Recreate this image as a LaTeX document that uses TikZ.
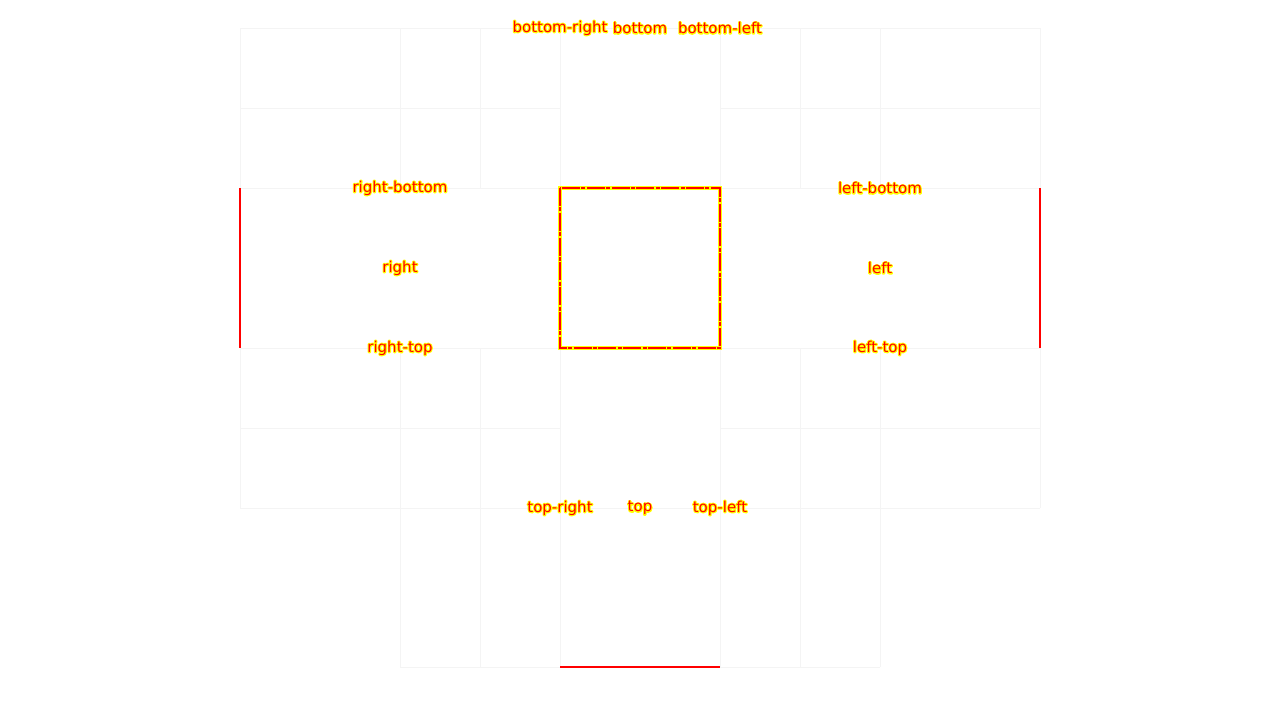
\documentclass[tikz,border=0pt]{standalone}
\usepackage{fontspec}
\setmainfont{DejaVu Sans}
\definecolor{faint}{RGB}{244,244,244}
\definecolor{hl}{RGB}{255,255,0}
\newcommand{\halotext}[1]{\rlap{\special{pdf:code q 1 Tr 1.1 w 1 1 0 RG 1 j}#1\special{pdf:code Q}}#1}
\begin{document}
\begin{tikzpicture}[x=0.5pt,y=-0.5pt,
  faintline/.style={draw=faint,line width=0.5pt},
  redside/.style={draw=red,line width=0.6pt},
  lbl/.style={inner sep=0pt,text=red,font=\fontsize{7.5}{8}\selectfont}]
\useasboundingbox (0,0) rectangle (1280,720);
% faint grid
\foreach \x in {240,400,480,560,720,800,880,1040} {
  \draw[faintline] (\x,28) -- (\x,188);
  \draw[faintline] (\x,348) -- (\x,508);
}
\foreach \x in {400,480,560,720,800,880}
  \draw[faintline] (\x,508) -- (\x,667);
\foreach \y in {108,188,348,428} {
  \draw[faintline] (240,\y) -- (560,\y);
  \draw[faintline] (720,\y) -- (1040,\y);
}
\draw[faintline] (240,28) -- (1040,28);
\draw[faintline] (240,508) -- (1040,508);
\draw[faintline] (400,667) -- (880,667);
% red marks
\coordinate (la) at (240,188); \coordinate (lb) at (240,348);
\coordinate (ra) at (1040,188); \coordinate (rb) at (1040,348);
\coordinate (ba) at (560,667); \coordinate (bb) at (720,667);
\draw[redside] (la) -- (lb);
\draw[redside] (ra) -- (rb);
\draw[draw=red,line width=0.7pt] (ba) -- (bb);
% central box
\draw[draw=hl,line width=1.6pt] (560,188) rectangle (720,348);
\draw[draw=red,line width=1.0pt,dash pattern=on 9pt off 0.7pt on 2pt off 0.7pt] (560,188) rectangle (720,348);
% labels
\node[lbl] (br) at (560,28) {\halotext{bottom-right}};
\node[lbl] (b)  at (640,28) {\halotext{bottom}};
\node[lbl] (bl) at (720,28) {\halotext{bottom-left}};
\node[lbl] (rbt) at (400,188) {\halotext{right-bottom}};
\node[lbl] (r)  at (400,268) {\halotext{right}};
\node[lbl] (rt) at (400,348) {\halotext{right-top}};
\node[lbl] (lbt) at (880,188) {\halotext{left-bottom}};
\node[lbl] (l)  at (880,268) {\halotext{left}};
\node[lbl] (lt) at (880,348) {\halotext{left-top}};
\node[lbl] (tr) at (560,508) {\halotext{top-right}};
\node[lbl] (t)  at (640,508) {\halotext{top}};
\node[lbl] (tl) at (720,508) {\halotext{top-left}};
\end{tikzpicture}
\end{document}
